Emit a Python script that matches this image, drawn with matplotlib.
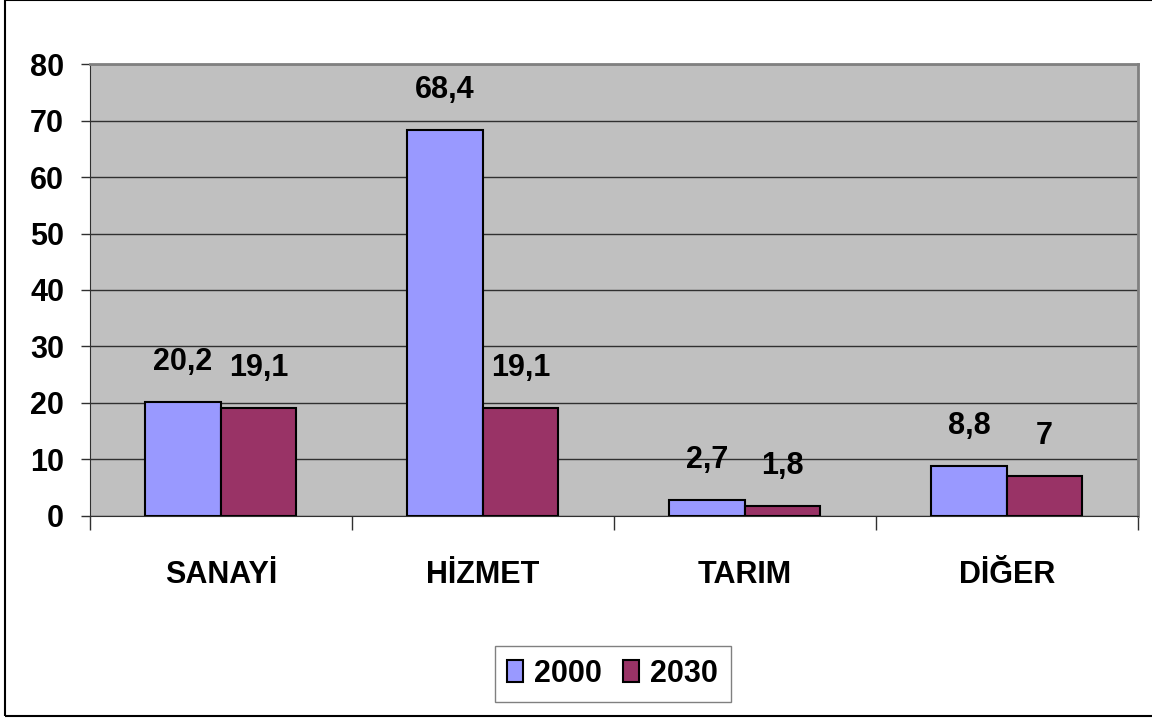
import numpy as np
import matplotlib.pyplot as plt
from matplotlib.patches import Rectangle, Patch

# Data
categories = ['SANAYİ', 'HİZMET', 'TARIM', 'DİĞER']
years = ['2000', '2030']
values_2000 = [20.2, 68.4, 2.7, 8.8]
values_2030 = [19.1, 19.1, 1.8, 7]
labels_2000 = ['20,2', '68,4', '2,7', '8,8']
labels_2030 = ['19,1', '19,1', '1,8', '7']

plt.rcParams['font.family'] = ['Liberation Sans Narrow', 'Liberation Sans', 'DejaVu Sans']
plt.rcParams['font.weight'] = 'bold'
FS = 22

fig = plt.figure(figsize=(11.52, 7.19), dpi=100)
ax = fig.add_axes([0.0779, 0.2828, 0.9097, 0.6278])
ax.set_facecolor('#C0C0C0')

x = np.arange(len(categories))
w = 0.2875
bars1 = ax.bar(x - w / 2, values_2000, w, color='#9999FF', edgecolor='black', linewidth=1.5, zorder=3)
bars2 = ax.bar(x + w / 2, values_2030, w, color='#993366', edgecolor='black', linewidth=1.5, zorder=3)

# value labels above bars
for bars, labs in [(bars1, labels_2000), (bars2, labels_2030)]:
    for b, lab in zip(bars, labs):
        ax.annotate(lab, (b.get_x() + b.get_width() / 2, b.get_height()),
                    xytext=(0, 23), textcoords='offset points',
                    ha='center', va='baseline', fontsize=FS, fontweight='bold')

ax.set_xlim(-0.5, len(categories) - 0.5)
ax.set_ylim(0, 80)
ax.set_yticks(np.arange(0, 81, 10))
ax.yaxis.grid(True, color='#303030', linewidth=1.0, zorder=1)

ax.set_xticks(x)
ax.set_xticklabels(categories)
ax.set_xticks(np.arange(-0.5, len(categories)), minor=True)
ax.tick_params(axis='x', which='major', length=0, pad=32, labelsize=FS)
ax.tick_params(axis='x', which='minor', length=10, width=1.0, direction='out', color='#303030')
ax.tick_params(axis='y', length=6.5, width=1.0, pad=12, labelsize=FS, color='#303030')
for lab in ax.get_xticklabels() + ax.get_yticklabels():
    lab.set_fontweight('bold')

for s in ['top', 'right']:
    ax.spines[s].set_color('#808080')
    ax.spines[s].set_linewidth(2)
ax.spines['left'].set_color('#303030')
ax.spines['bottom'].set_color('#303030')

handles = [Patch(facecolor='#9999FF', edgecolor='black', linewidth=1.5),
           Patch(facecolor='#993366', edgecolor='black', linewidth=1.5)]
leg = fig.legend(handles, years, loc='center', bbox_to_anchor=(0.5317, 0.063), ncol=2,
                 frameon=True, fancybox=False, handlelength=0.52,
                 handleheight=0.72, handletextpad=0.36, columnspacing=0.68,
                 borderpad=0.42, prop={'weight': 'bold', 'size': FS})
leg.get_frame().set_edgecolor('#606060')
leg.get_frame().set_linewidth(1.0)

# outer chart border
fig.patches.append(Rectangle((5 / 1152, 3 / 719), 1.0, 0.996, fill=False, edgecolor='black',
                             linewidth=1.5, transform=fig.transFigure, clip_on=False))

fig.savefig('out.png', dpi=100)
